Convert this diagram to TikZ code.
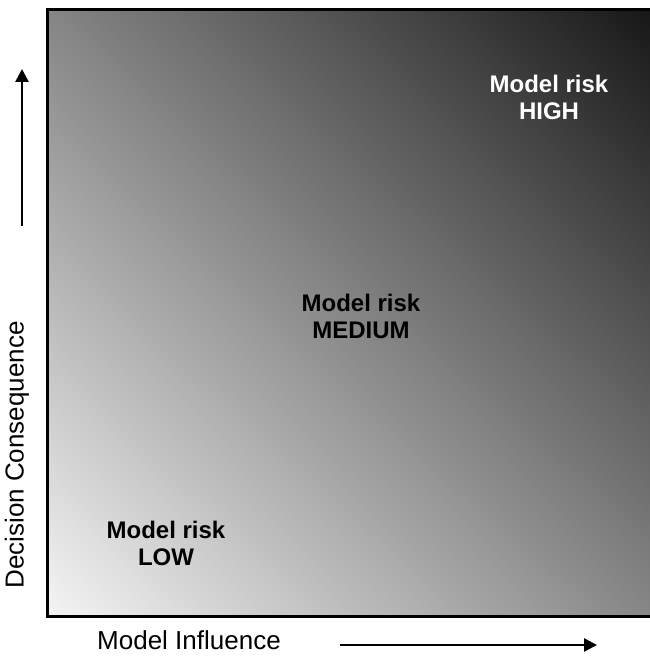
\documentclass[tikz,border=0pt]{standalone}
\usepackage{fontspec}
\setmainfont{Liberation Sans}
\usetikzlibrary{positioning,arrows.meta}
\tikzset{risklabel/.style={font=\fontsize{24}{27}\selectfont\bfseries, align=center, inner sep=0pt}}
\tikzset{axislabel/.style={font=\fontsize{26}{28}\selectfont, inner sep=0pt}}
\tikzset{axisarr/.style={draw, -{Triangle[length=13pt,width=13pt]}, line width=2.6pt}}
\tikzset{riskshade/.style={left color=black!4, middle color=black!34, right color=black!91}}

\begin{document}
\begin{tikzpicture}[x=1pt,y=1pt]
	\useasboundingbox (0,0) rectangle (649,656);
	\coordinate (SW) at (47,39);
	\coordinate (NE) at (653,646);
	\coordinate (C) at (350,342.5);
	% diagonal gradient, low risk to high risk
	\begin{scope}
		\clip (SW) rectangle (NE);
		\begin{scope}[transform canvas={rotate around={45.2:(C)}}]
			\shade[riskshade] (-79,-86) rectangle (779,771);
		\end{scope}
	\end{scope}
	\draw[line width=3pt] (SW -| NE) -- (SW) -- (SW |- NE) -- (NE);

	\node[risklabel, text=white] (high) at (549,559) {Model risk\\HIGH};
	\node[risklabel] (medium) at (361,340) {Model risk\\MEDIUM};
	\node[risklabel] (low) at (166,113) {Model risk\\LOW};

	% axes
	\node[axislabel, anchor=base] (infl) at (189,6) {Model Influence};
	\node[axislabel, rotate=90, anchor=center] (cons) at (17,201) {Decision Consequence};
	\coordinate (inflA) at (340,11);
	\coordinate (inflB) at (597,11);
	\coordinate (consA) at (22,430);
	\coordinate (consB) at (22,587);
	\draw[axisarr] (inflA) -- (inflB);
	\draw[axisarr] (consA) -- (consB);
\end{tikzpicture}
\end{document}
